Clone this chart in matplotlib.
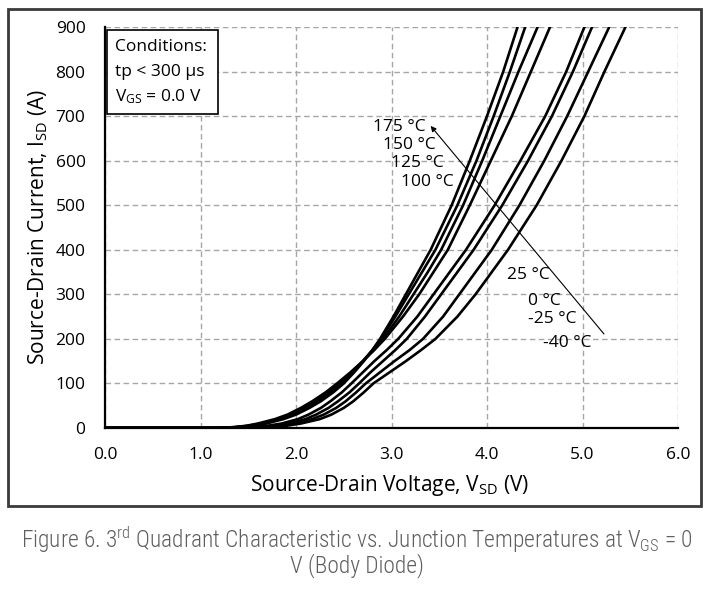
import numpy as np
import matplotlib
matplotlib.use("Agg")
import matplotlib.pyplot as plt
from matplotlib.patches import Rectangle

plt.rcParams['font.family'] = ['Open Sans', 'DejaVu Sans']
plt.rcParams['mathtext.default'] = 'regular'

# source-drain current levels (A), shared by all curves
current = [0, 0, 2, 5, 10, 20, 30, 45, 60, 80, 100, 125, 150, 175, 200,
           250, 300, 350, 400, 500, 600, 700, 800, 900]

# source-drain voltage (V) of each curve at the current levels above
v_175 = [0, 1.22, 1.41, 1.56, 1.69, 1.87, 2.00, 2.14, 2.26, 2.39, 2.50, 2.61, 2.71, 2.80, 2.88,
         3.02, 3.15, 3.28, 3.41, 3.63, 3.82, 4.00, 4.17, 4.32]
v_150 = [0, 1.20, 1.39, 1.53, 1.66, 1.84, 1.97, 2.11, 2.23, 2.36, 2.47, 2.59, 2.70, 2.80, 2.89,
         3.04, 3.18, 3.32, 3.46, 3.69, 3.89, 4.07, 4.24, 4.40]
v_125 = [0, 1.18, 1.37, 1.50, 1.63, 1.81, 1.94, 2.08, 2.20, 2.33, 2.45, 2.58, 2.70, 2.81, 2.91,
         3.08, 3.23, 3.38, 3.52, 3.75, 3.95, 4.14, 4.33, 4.53]
v_100 = [0, 1.16, 1.35, 1.48, 1.60, 1.78, 1.91, 2.05, 2.17, 2.31, 2.43, 2.57, 2.70, 2.82, 2.93,
         3.12, 3.29, 3.44, 3.59, 3.82, 4.04, 4.26, 4.46, 4.66]
v_25 = [0, 1.30, 1.55, 1.70, 1.85, 2.02, 2.13, 2.26, 2.36, 2.48, 2.58, 2.70, 2.82, 2.95, 3.07,
        3.27, 3.44, 3.61, 3.78, 4.08, 4.35, 4.61, 4.83, 5.02]
v_0 = [0, 1.35, 1.62, 1.77, 1.92, 2.10, 2.21, 2.34, 2.44, 2.56, 2.66, 2.78, 2.91, 3.04, 3.16,
       3.35, 3.52, 3.69, 3.86, 4.16, 4.43, 4.68, 4.90, 5.10]
v_m25 = [0, 1.40, 1.68, 1.83, 1.98, 2.17, 2.29, 2.42, 2.52, 2.63, 2.73, 2.88, 3.03, 3.19, 3.33,
         3.54, 3.71, 3.88, 4.05, 4.34, 4.60, 4.84, 5.06, 5.28]
v_m40 = [0, 1.45, 1.74, 1.90, 2.05, 2.25, 2.37, 2.50, 2.60, 2.71, 2.81, 2.98, 3.15, 3.31, 3.46,
         3.69, 3.88, 4.05, 4.22, 4.52, 4.78, 5.02, 5.23, 5.45]

curves = [v_175, v_150, v_125, v_100, v_25, v_0, v_m25, v_m40]

# curve labels: text, x (V), y (A)
labels = ["175 °C", "150 °C", "125 °C", "100 °C", "25 °C", "0 °C", "-25 °C", "-40 °C"]
label_x = [2.81, 2.91, 2.99, 3.10, 4.21, 4.43, 4.43, 4.59]
label_y = [675, 635, 595, 552, 343, 285, 245, 191]

xticks = [0, 1, 2, 3, 4, 5, 6]
yticks = [0, 100, 200, 300, 400, 500, 600, 700, 800, 900]


fig = plt.figure(figsize=(7.14, 5.91), dpi=100)
ax = fig.add_axes([105/714, 1-428/591, 573/714, 401/591])

for v in curves:
	ax.plot(v, current, color="black", lw=1.9, solid_joinstyle="round", clip_on=True)

ax.set_xlim(0, 6)
ax.set_ylim(0, 900)
ax.set_xticks(xticks)
ax.set_xticklabels(["%.1f" % t for t in xticks])
ax.set_yticks(yticks)
ax.tick_params(length=0, labelsize=12.5, pad=14)
ax.grid(True, color="#a6a6a6", ls=(0, (4, 2.5)), lw=1.0)
ax.set_axisbelow(True)

for s in ["top", "right"]:
	ax.spines[s].set_visible(False)
for s in ["left", "bottom"]:
	ax.spines[s].set_linewidth(1.6)
	ax.spines[s].set_zorder(5)

ax.set_xlabel("Source-Drain Voltage, V$_{SD}$ (V)", fontsize=15, va="center")
ax.xaxis.set_label_coords(0.497, -58/401)
ax.set_ylabel("Source-Drain Current, I$_{SD}$ (A)", fontsize=15, va="center")
ax.yaxis.set_label_coords(-67/573, 0.5)

# conditions box
ax.add_patch(Rectangle((2/573, 314/401), 111/573, 84/401, transform=ax.transAxes,
                       facecolor="white", edgecolor="black", lw=1.2, zorder=6))
cond = ["Conditions:", "tp < 300 µs", "V$_{GS}$ = 0.0 V"]
for i, c in enumerate(cond):
	ax.text(10/573, (381 - 25*i)/401, c, transform=ax.transAxes, fontsize=12.5,
	        va="center", ha="left", zorder=7)

for t, x, y in zip(labels, label_x, label_y):
	ax.text(x, y, t, fontsize=12.5, va="center", ha="left")

ax.annotate("", xy=(3.41, 678), xytext=(5.225, 211),
            arrowprops=dict(arrowstyle="-|>", color="black", lw=0.8,
                            mutation_scale=8, shrinkA=0, shrinkB=0))

# outer frame
fig.patches.append(Rectangle((8/714, 1-506/591), 693/714, 497/591, transform=fig.transFigure,
                             fill=False, edgecolor="#3a3a3a", lw=2))

cap_font = ['Roboto Condensed', 'Lato', 'DejaVu Sans']
fig.text(0.5, 1-540/591, "Figure 6. 3$^{rd}$ Quadrant Characteristic vs. Junction Temperatures at V$_{GS}$ = 0",
         ha="center", va="center", fontsize=16.8, color="#5f5f5f", family=cap_font, weight="light")
fig.text(0.5, 1-566/591, "V (Body Diode)", ha="center", va="center", fontsize=16.8,
         color="#5f5f5f", family=cap_font, weight="light")

fig.savefig("out.png", dpi=100)
